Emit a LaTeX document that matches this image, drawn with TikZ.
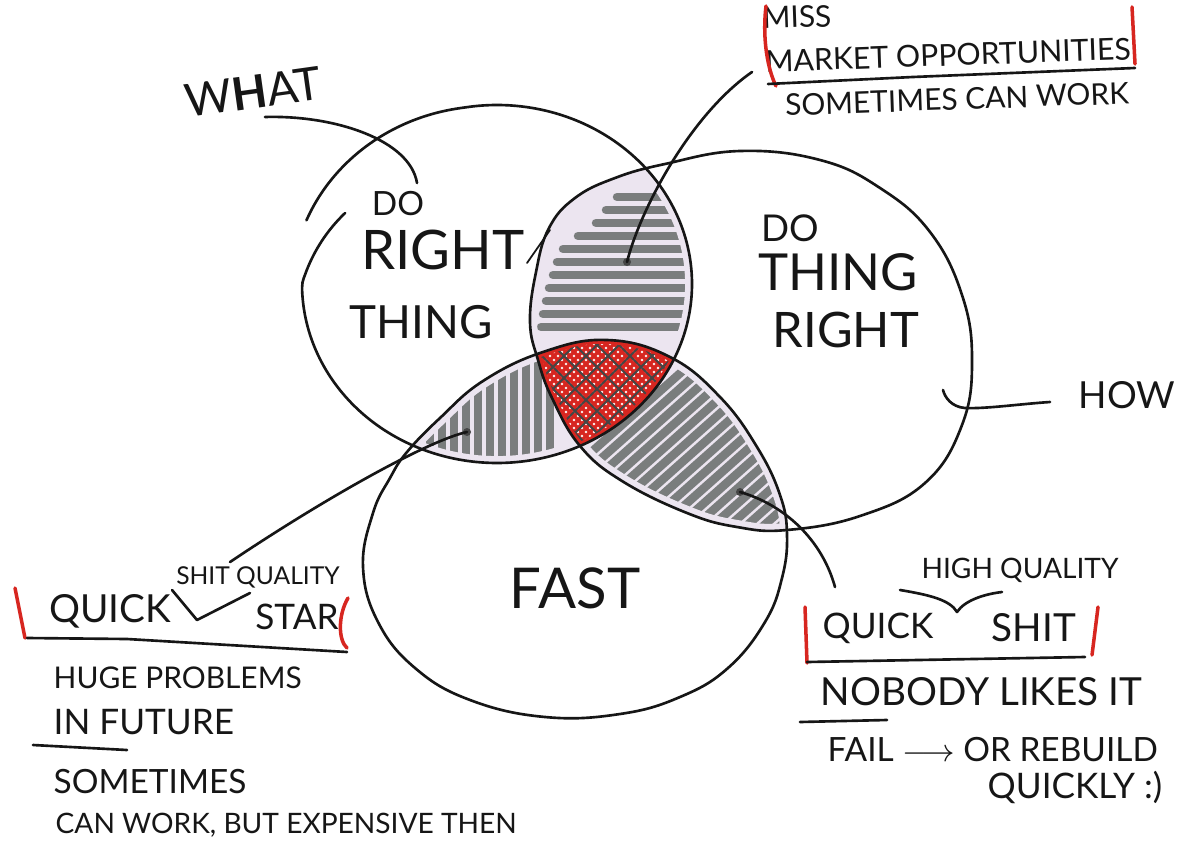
\documentclass[tikz,border=0pt]{standalone}
\usepackage{fontspec}
\newfontfamily\hand{Lato}
\newcommand\handsize[1]{\hand\fontsize{#1}{#1}\selectfont}

\definecolor{lensfill}{RGB}{236,229,240}
\definecolor{marker}{RGB}{122,125,125}
\definecolor{redpen}{RGB}{215,38,32}
\definecolor{ink}{RGB}{22,22,22}

% outlines of the three rings (pixel grid, y downwards)
\def\ringleft{(497,284) ellipse [x radius=1.95cm, y radius=1.79cm]}
\def\ringright{plot[smooth cycle, tension=0.7] coordinates {(530,322) (536,272) (549,228) (575,198) (615,178) (665,164) (740,151) (820,160) (880,188) (930,232) (962,295) (972,360) (962,425) (925,483) (860,516) (787,530) (737,527) (687,513) (622,481) (580,446) (552,398) (538,360)}}
\def\ringfast{plot[smooth cycle, tension=0.7] coordinates {(363,567) (373,513) (390,478) (407,452) (440,418) (483,381) (543,352) (607,340) (670,357) (720,397) (757,447) (780,495) (787,535) (782,578) (765,622) (728,668) (680,697) (620,714) (545,717) (470,700) (415,668) (378,622)}}

\begin{document}
\begin{tikzpicture}[
    x=0.01cm, y=-0.01cm,
    ink/.style={draw=ink, line width=0.75pt, line cap=round, line join=round},
    redbar/.style={draw=redpen, line width=1pt, line cap=round},
    markerpen/.style={draw=marker, line width=0.85mm, line cap=round},
    lensmargin/.style={draw=lensfill, line width=1.4mm},
    lensdot/.style={circle, fill=ink!80, inner sep=0pt, minimum size=0.8mm},
    handtext/.style={inner sep=0pt, text=ink, align=left},
    declare function={lsc(\t)=1-0.126*max(0,(\t-180)/27)+0.04*max(0,(-100-\t)/60);}
  ]

  \fill[white] (0,0) rectangle (1198,840);
  \useasboundingbox (0,0) rectangle (1198,840);

  % top lens
  \begin{scope}
    \clip \ringleft; \clip \ringright;
    \fill[lensfill] (500,120) rectangle (720,480);
    \foreach \yy/\xa in {197/617, 210/606, 223/596, 236/578, 249/563, 262/557, 275/553, 288/549, 301/546, 314/543, 327/541}
      \draw[markerpen] (\xa,\yy) -- (705,\yy);
    \draw[lensmargin] \ringleft; \draw[lensmargin] \ringright;
  \end{scope}

  % lower left lens
  \begin{scope}
    \clip \ringleft; \clip \ringfast;
    \fill[lensfill] (380,330) rectangle (700,480);
    \foreach \xx in {418,430,...,550}
      \draw[markerpen] (\xx,330) -- (\xx,480);
    \draw[lensmargin] \ringleft; \draw[lensmargin] \ringfast;
  \end{scope}

  % lower right lens
  \begin{scope}
    \clip \ringright; \clip \ringfast;
    \fill[lensfill] (520,330) rectangle (800,540);
    \foreach \c in {1100,1117,...,1372}
      \draw[markerpen] ({\c-675},600) -- ({\c-337.5},300);
    \draw[lensmargin] \ringright; \draw[lensmargin] \ringfast;
  \end{scope}

  % middle
  \begin{scope}
    \clip \ringleft; \clip \ringright; \clip \ringfast;
    \fill[redpen!6] (400,300) rectangle (720,480);
    \foreach \k in {400,408,...,680} {
      \draw[redpen, line width=0.35mm] (\k,470) -- ++(140,-140);
      \draw[redpen, line width=0.35mm] (\k,330) -- ++(140,140);
    }
    \foreach \k in {400,422,...,680} {
      \draw[ink!80, line width=0.2mm] (\k+6,470) -- ++(140,-140);
      \draw[ink!80, line width=0.2mm] (\k+6,330) -- ++(140,140);
    }
    \draw[redpen, line width=0.8mm] \ringleft;
    \draw[redpen, line width=0.8mm] \ringright;
    \draw[redpen, line width=0.8mm] \ringfast;
  \end{scope}

  % rings
  \draw[ink] plot[domain=-160:207, samples=140, smooth] ({497+195*lsc(\x)*cos(\x)}, {284+179*lsc(\x)*sin(\x)});
  \draw[ink] \ringright;
  \draw[ink] \ringfast;
  \draw[ink, line width=0.5pt] (527,263) -- (550,230);

  % labels inside
  \node[handtext, font=\handsize{9.5}] (doleft) at (398,204) {DO};
  \node[handtext, font=\handsize{15.5}] (rightleft) at (443,250) {RIGHT};
  \node[handtext, font=\handsize{13}] (thingleft) at (421,322) {THING};
  \node[handtext, font=\handsize{10.5}] (doright) at (790,228) {DO};
  \node[handtext, font=\handsize{14.5}] (thingright) at (838,272) {THING};
  \node[handtext, font=\handsize{13.9}] (rightright) at (846,330) {RIGHT};
  \node[handtext, font=\handsize{16}] (fast) at (575,588) {FAST};

  \node[handtext, font=\handsize{13}, rotate=8] (what) at (253,92) {W\textbf{H}AT};
  \node[handtext, font=\handsize{10.6}] (how) at (1127,395) {HOW};

  % dots and connectors
  \node[lensdot] (dottop) at (627,262) {};
  \node[lensdot] (dotleft) at (467,432) {};
  \node[lensdot] (dotright) at (740,492) {};
  \coordinate (whatend) at (265,117);
  \coordinate (doend) at (417,183);
  \coordinate (howend) at (1050,402);
  \coordinate (howhook) at (943,390);
  \coordinate (missend) at (752,72);
  \coordinate (shitend) at (230,562);
  \coordinate (highend) at (835,587);

  \draw[ink] (whatend) .. controls (335,115) and (410,140) .. (doend);
  \draw[ink] (howend) .. controls (1020,404) and (985,409) .. (965,408) .. controls (952,407) and (945,398) .. (howhook);
  \draw[ink] (dottop.center) .. controls (640,210) and (690,115) .. (missend);
  \draw[ink] (dotleft.center) .. controls (430,440) and (330,495) .. (shitend);
  \draw[ink] (dotright.center) .. controls (785,505) and (822,540) .. (highend);

  % top right note
  \node[handtext, font=\handsize{8.5}, rotate=2] (miss) at (797,17) {MISS};
  \node[handtext, font=\handsize{8.6}, rotate=2] (market) at (948,55) {MARKET OPPORTUNITIES};
  \node[handtext, font=\handsize{8.5}, rotate=2] (worktop) at (957,99) {SOMETIMES CAN WORK};
  \draw[redbar] (766,6) .. controls (762,40) and (768,70) .. (776,86);
  \draw[redbar] (1132,7) -- (1135,64);
  \draw[ink] (768,84) -- (913,77) -- (1135,68);

  % bottom left note
  \node[handtext, font=\handsize{7}] (shitq) at (258,577) {SHIT QUALITY};
  \node[handtext, font=\handsize{11}] (quickl) at (110,611) {QUICK};
  \node[handtext, font=\handsize{10}] (star) at (297,617) {STAR};
  \draw[ink] (172,590) -- (197,620) -- (250,593);
  \draw[redbar] (15,588) -- (25,638);
  \draw[redbar] (348,598) .. controls (338,615) and (338,640) .. (347,648);
  \draw[ink] (27,638) -- (127,639) -- (347,652);
  \node[handtext, font=\handsize{8.5}, anchor=west] (huge) at (53,678) {HUGE PROBLEMS};
  \node[handtext, font=\handsize{10}, anchor=west] (future) at (53,722) {IN FUTURE};
  \draw[ink] (33,745) -- (127,750);
  \node[handtext, font=\handsize{9.5}, anchor=west] (sometimes) at (53,782) {SOMETIMES};
  \node[handtext, font=\handsize{8}, anchor=west] (expensive) at (55,825) {CAN WORK, BUT EXPENSIVE THEN};

  % bottom right note
  \node[handtext, font=\handsize{8}] (highq) at (1020,570) {HIGH QUALITY};
  \draw[ink] (900,590) .. controls (930,595) and (950,600) .. (957,612) .. controls (965,600) and (985,594) .. (1002,592);
  \node[handtext, font=\handsize{10}] (quickr) at (878,628) {QUICK};
  \node[handtext, font=\handsize{11}] (shitr) at (1034,628) {SHIT};
  \draw[redbar] (805,607) -- (807,663);
  \draw[redbar] (1098,607) -- (1092,655);
  \draw[ink] (807,662) -- (1085,657);
  \node[handtext, font=\handsize{11}, anchor=west] (nobody) at (820,692) {NOBODY LIKES IT};
  \draw[ink] (800,722) -- (887,720);
  \node[handtext, font=\handsize{9.5}, anchor=west] (fail) at (827,750) {FAIL $\longrightarrow$ OR REBUILD};
  \node[handtext, font=\handsize{10}, anchor=west] (quickly) at (987,787) {QUICKLY :)};

\end{tikzpicture}
\end{document}
